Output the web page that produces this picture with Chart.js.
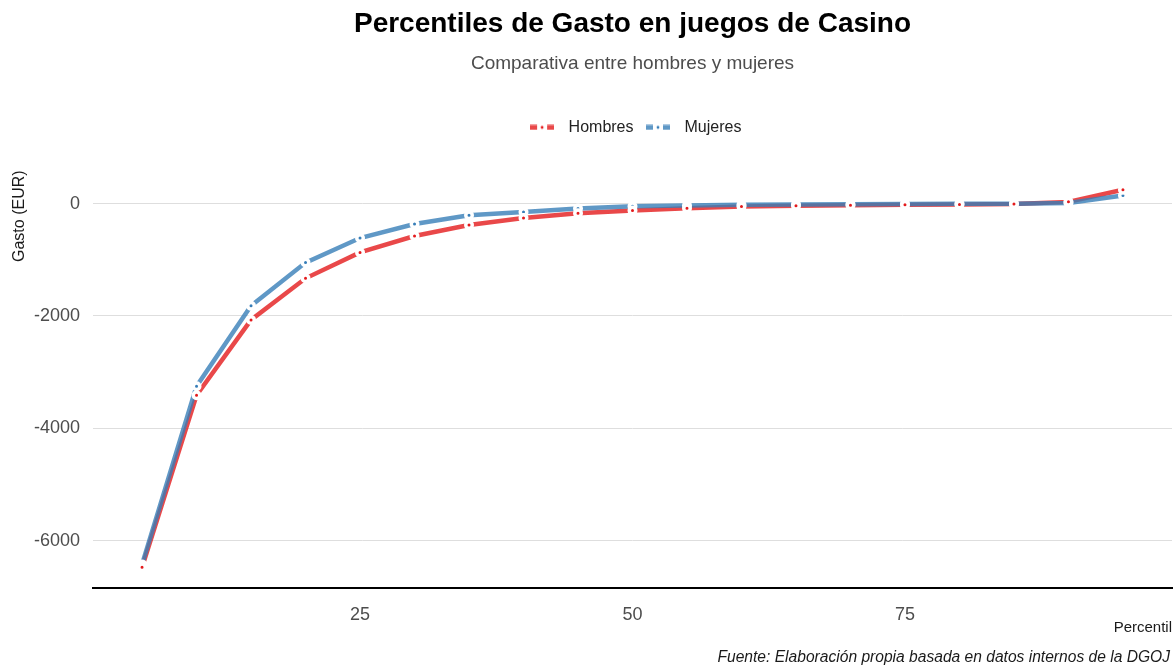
<!DOCTYPE html>
<html>
<head>
<meta charset="utf-8">
<script src="https://cdn.jsdelivr.net/npm/chart.js@4.4.1/dist/chart.umd.min.js"></script>
<style>
  html, body { margin: 0; padding: 0; background: #ffffff; }
  #wrap { width: 1175px; height: 667px; }
</style>
</head>
<body>
<div id="wrap"><canvas id="c" width="1175" height="667"></canvas></div>
<script>
// ---- Data ----
const percentiles = [5, 10, 15, 20, 25, 30, 35, 40, 45, 50, 55, 60, 65, 70, 75, 80, 85, 90, 95];
const hombres = [-6470, -3410, -2070, -1330, -870, -577, -381, -256, -173, -125, -84, -54, -41, -30, -20, -15, -10, 30, 245];
const mujeres = [-6420, -3250, -1820, -1050, -613, -363, -208, -149, -90, -48, -36, -23, -18, -12, -10, -5, -3, 12, 143];
const xTicks = [25, 50, 75];
const yTicks = [0, -2000, -4000, -6000];
const seriesNames = ['Hombres', 'Mujeres'];
const titleText = 'Percentiles de Gasto en juegos de Casino';
const subtitleText = 'Comparativa entre hombres y mujeres';
const xTitle = 'Percentil';
const yTitle = 'Gasto (EUR)';
const captionText = 'Fuente: Elaboración propia basada en datos internos de la DGOJ';

// ---- Style ----
const FONT = '"Liberation Sans", Arial, Helvetica, sans-serif';
const redSolid = '#E41A1C', blueSolid = '#377EB8';
const redLine = 'rgba(228,26,28,0.8)', blueLine = 'rgba(55,126,184,0.8)';

Chart.defaults.font.family = FONT;

function legendSample(lineCol, dotCol) {
  const c = document.createElement('canvas');
  c.width = 24; c.height = 6;
  const g = c.getContext('2d');
  g.fillStyle = lineCol;
  g.fillRect(0, 0.5, 7, 5);
  g.fillRect(17, 0.5, 7, 5);
  g.fillStyle = dotCol;
  g.beginPath(); g.arc(12, 3, 1.4, 0, Math.PI * 2); g.fill();
  return c;
}
const legendImgs = [legendSample(redLine, redSolid), legendSample(blueLine, blueSolid)];

const toXY = arr => percentiles.map((p, i) => ({ x: p, y: arr[i] }));

const legendSpacer = {
  id: 'legendSpacer',
  beforeLayout(chart) {
    const lg = chart.legend;
    if (lg && !lg._spacerPatched) {
      const f = lg.fit;
      lg.fit = function () { f.call(this); this.height += 25; };
      lg._spacerPatched = true;
    }
  }
};

const captionPlugin = {
  id: 'caption',
  afterDraw(chart) {
    const ctx = chart.ctx;
    ctx.save();
    ctx.font = 'italic 15.6px ' + FONT;
    ctx.fillStyle = '#1a1a1a';
    ctx.textAlign = 'right';
    ctx.textBaseline = 'middle';
    ctx.fillText(captionText, chart.chartArea.right - 2, 658);
    ctx.restore();
  }
};

new Chart(document.getElementById('c'), {
  type: 'line',
  data: {
    datasets: [
      { label: seriesNames[0], data: toXY(hombres), borderColor: redLine, borderWidth: 4.5, pointRadius: 0, tension: 0, fill: false, order: 4 },
      { label: seriesNames[1], data: toXY(mujeres), borderColor: blueLine, borderWidth: 4.5, pointRadius: 0, tension: 0, fill: false, order: 3 },
      { label: seriesNames[1] + ' pts', data: toXY(mujeres), showLine: false, pointRadius: 3.25, pointBorderWidth: 3.5, pointBackgroundColor: blueSolid, pointBorderColor: '#ffffff', order: 2 },
      { label: seriesNames[0] + ' pts', data: toXY(hombres), showLine: false, pointRadius: 3.25, pointBorderWidth: 3.5, pointBackgroundColor: redSolid, pointBorderColor: '#ffffff', order: 1 }
    ]
  },
  options: {
    responsive: false,
    animation: false,
    devicePixelRatio: 1,
    events: [],
    layout: { autoPadding: false, padding: { left: 0, right: 3, top: 0, bottom: 28 } },
    scales: {
      x: {
        type: 'linear',
        min: 0.5,
        max: 99.5,
        afterBuildTicks: s => { s.ticks = xTicks.map(v => ({ value: v })); },
        afterFit: s => { s.height = 51; },
        ticks: { font: { size: 18 }, color: '#4D4D4D', padding: 8, callback: v => String(v), maxRotation: 0 },
        grid: { display: false },
        border: { display: true, color: '#000000', width: 2 },
        title: { display: true, text: xTitle, align: 'end', color: '#1a1a1a', font: { size: 15 }, padding: { top: 0, bottom: 2 } }
      },
      y: {
        type: 'linear',
        min: -6840,
        max: 590,
        afterBuildTicks: s => { s.ticks = yTicks.map(v => ({ value: v })); },
        afterFit: s => { s.width = 93; },
        ticks: { font: { size: 18 }, color: '#4D4D4D', padding: 13, callback: v => String(v) },
        grid: { color: '#DEDEDE', lineWidth: 1, drawTicks: false },
        border: { display: false },
        title: { display: true, text: yTitle, align: 'end', color: '#1a1a1a', font: { size: 16 }, padding: { top: 10, bottom: 0 } }
      }
    },
    plugins: {
      title: { display: true, text: titleText, fullSize: false, color: '#000000', font: { size: 28, weight: 'bold' }, padding: { top: 7, bottom: 0 } },
      subtitle: { display: true, text: subtitleText, fullSize: false, color: '#4D4D4D', font: { size: 19 }, padding: { top: 12, bottom: 38 } },
      legend: {
        display: true,
        position: 'top',
        fullSize: false,
        labels: {
          usePointStyle: true,
          pointStyleWidth: 37,
          boxHeight: 6,
          padding: 6,
          color: '#222222',
          font: { size: 16 },
          generateLabels: chart => [0, 1].map(i => ({
            text: chart.data.datasets[i].label,
            pointStyle: legendImgs[i],
            datasetIndex: i,
            hidden: false,
            lineWidth: 0,
            fillStyle: 'rgba(0,0,0,0)',
            strokeStyle: 'rgba(0,0,0,0)',
            fontColor: '#222222'
          }))
        }
      },
      tooltip: { enabled: false }
    }
  },
  plugins: [legendSpacer, captionPlugin]
});
</script>
</body>
</html>
